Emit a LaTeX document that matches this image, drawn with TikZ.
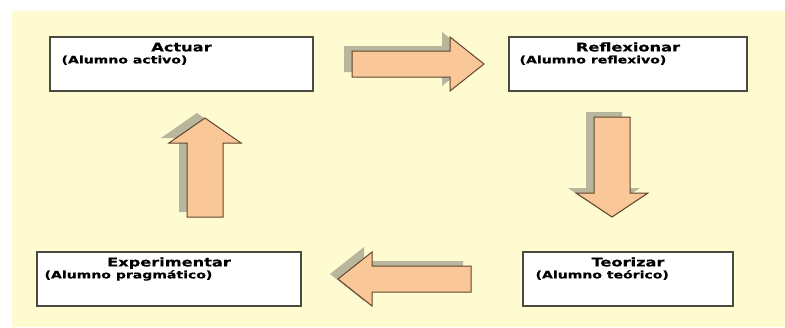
\documentclass[tikz,border=0pt]{standalone}
\usepackage{fontspec}
\setmainfont{DejaVu Sans}[FakeStretch=1.35,BoldFeatures={FakeBold=0.6}]
\usetikzlibrary{positioning}
\definecolor{fondo}{RGB}{255,251,208}
\definecolor{borde}{RGB}{75,75,65}
\definecolor{naranja}{RGB}{250,200,152}
\definecolor{marron}{RGB}{95,70,45}
\definecolor{sombra}{RGB}{184,182,156}
\newcommand{\flechabloque}[1]{%
	\fill[sombra,shift={(-8,-5)}] #1 -- cycle;
	\draw[draw=marron,fill=naranja,line width=1pt] #1 -- cycle;}

\begin{document}
\begin{tikzpicture}[x=1pt,y=-1pt]
			\useasboundingbox (0,0) rectangle (785,327);
			\fill[fondo] (12,11) rectangle (785,327);
			\begin{scope}[shape=rectangle,inner sep=0pt]
			\tikzstyle{every node}=[]
			\tikzset{etapa/.style={draw=borde,fill=white,line width=1.2pt,minimum width=#1,minimum height=54pt},
				titulo/.style={font=\bfseries\fontsize{12}{14}\selectfont,anchor=base},
				sub/.style={font=\bfseries\fontsize{10.4}{12}\selectfont,anchor=base west}}
			\node[etapa=263pt] (act) at (181.5,64) {};
			\node[etapa=238pt] (ref) at (628,64) {};
			\node[etapa=264pt] (exp) at (169,279) {};
			\node[etapa=210pt] (teo) at (628,279) {};
			\node[titulo] (act-t) at ([yshift=-15pt]act.north) {Actuar};
			\node[titulo] (ref-t) at ([yshift=-15pt]ref.north) {Reflexionar};
			\node[titulo] (exp-t) at ([yshift=-15pt]exp.north) {Experimentar};
			\node[titulo] (teo-t) at ([yshift=-15pt]teo.north) {Teorizar};
			\node[sub] (act-s) at ([xshift=12pt,yshift=-27pt]act.north west) {(Alumno activo)};
			\node[sub] (ref-s) at ([xshift=11pt,yshift=-27pt]ref.north west) {(Alumno reflexivo)};
			\node[sub] (exp-s) at ([xshift=8pt,yshift=-27pt]exp.north west) {(Alumno pragmático)};
			\node[sub] (teo-s) at ([xshift=13pt,yshift=-27pt]teo.north west) {(Alumno teórico)};
			\end{scope}
			% flechas del ciclo
			\flechabloque{(352,51) -- (450,51) -- (450,37) -- (484,64) -- (450,91) -- (450,77) -- (352,77)}
			\flechabloque{(594,117) -- (594,193) -- (576,193) -- (612,217) -- (648,193) -- (630,193) -- (630,117)}
			\flechabloque{(471,266) -- (372,266) -- (372,252) -- (338,279) -- (372,306) -- (372,292) -- (471,292)}
			\flechabloque{(187,217) -- (187,143) -- (169,143) -- (205,118) -- (241,143) -- (223,143) -- (223,217)}
		\end{tikzpicture}
\end{document}
